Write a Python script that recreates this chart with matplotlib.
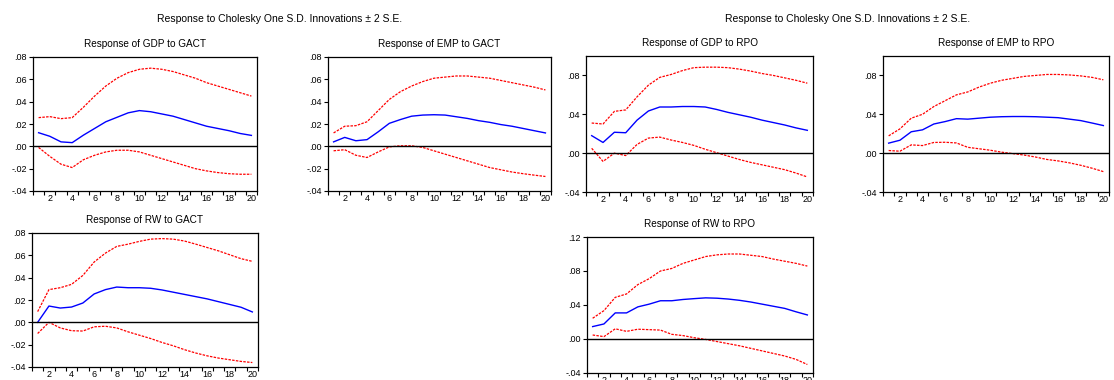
import matplotlib
matplotlib.use("Agg")
import matplotlib.pyplot as plt
import numpy as np

plt.rcParams['font.family'] = ['Liberation Sans', 'DejaVu Sans']

periods = list(range(1, 21))

gdp_gact = [0.0122, 0.0090, 0.0040, 0.0033, 0.0100, 0.0160, 0.0220, 0.0260, 0.0300, 0.0320,
            0.0310, 0.0290, 0.0270, 0.0240, 0.0210, 0.0180, 0.0160, 0.0140, 0.0115, 0.0098]
gdp_gact_hi = [0.0257, 0.0266, 0.0248, 0.0257, 0.0350, 0.0450, 0.0540, 0.0610, 0.0660, 0.0690,
               0.0700, 0.0690, 0.0670, 0.0640, 0.0610, 0.0570, 0.0540, 0.0510, 0.0480, 0.0450]
gdp_gact_lo = [-0.0010, -0.0090, -0.0160, -0.0190, -0.0120, -0.0080, -0.0050, -0.0035, -0.0035, -0.0050,
               -0.0080, -0.0110, -0.0140, -0.0170, -0.0200, -0.0220, -0.0235, -0.0245, -0.0250, -0.0250]

emp_gact = [0.0040, 0.0080, 0.0050, 0.0060, 0.0130, 0.0206, 0.0240, 0.0270, 0.0280, 0.0283,
            0.0280, 0.0265, 0.0250, 0.0230, 0.0215, 0.0195, 0.0180, 0.0160, 0.0140, 0.0120]
emp_gact_hi = [0.0120, 0.0180, 0.0185, 0.0220, 0.0320, 0.0420, 0.0490, 0.0540, 0.0580, 0.0610,
               0.0620, 0.0630, 0.0630, 0.0620, 0.0610, 0.0590, 0.0570, 0.0550, 0.0530, 0.0505]
emp_gact_lo = [-0.0040, -0.0030, -0.0080, -0.0100, -0.0050, -0.0005, 0.0005, 0.0005, -0.0010, -0.0040,
               -0.0070, -0.0100, -0.0130, -0.0160, -0.0190, -0.0210, -0.0230, -0.0245, -0.0258, -0.0270]

gdp_rpo = [0.0180, 0.0110, 0.0215, 0.0210, 0.0340, 0.0434, 0.0475, 0.0475, 0.0480, 0.0480,
           0.0475, 0.0450, 0.0420, 0.0395, 0.0370, 0.0340, 0.0315, 0.0290, 0.0260, 0.0235]
gdp_rpo_hi = [0.0310, 0.0300, 0.0430, 0.0445, 0.0580, 0.0700, 0.0780, 0.0810, 0.0850, 0.0880,
              0.0885, 0.0885, 0.0880, 0.0865, 0.0845, 0.0820, 0.0800, 0.0775, 0.0750, 0.0720]
gdp_rpo_lo = [0.0050, -0.0085, 0.0000, -0.0025, 0.0090, 0.0155, 0.0165, 0.0135, 0.0110, 0.0080,
              0.0040, 0.0005, -0.0030, -0.0065, -0.0095, -0.0120, -0.0145, -0.0170, -0.0205, -0.0245]

emp_rpo = [0.0103, 0.0133, 0.0220, 0.0240, 0.0300, 0.0325, 0.0355, 0.0350, 0.0360, 0.0370,
           0.0375, 0.0377, 0.0377, 0.0375, 0.0370, 0.0365, 0.0350, 0.0335, 0.0310, 0.0284]
emp_rpo_hi = [0.0178, 0.0250, 0.0360, 0.0400, 0.0480, 0.0540, 0.0600, 0.0630, 0.0680, 0.0720,
              0.0750, 0.0770, 0.0790, 0.0800, 0.0810, 0.0810, 0.0805, 0.0795, 0.0780, 0.0755]
emp_rpo_lo = [0.0027, 0.0020, 0.0085, 0.0078, 0.0110, 0.0112, 0.0105, 0.0060, 0.0045, 0.0030,
              0.0010, -0.0005, -0.0020, -0.0040, -0.0065, -0.0080, -0.0100, -0.0125, -0.0155, -0.0190]

rw_gact = [0.0000, 0.0146, 0.0128, 0.0137, 0.0173, 0.0254, 0.0293, 0.0316, 0.0310, 0.0310,
           0.0305, 0.0290, 0.0270, 0.0250, 0.0230, 0.0210, 0.0185, 0.0160, 0.0135, 0.0093]
rw_gact_hi = [0.0096, 0.0293, 0.0310, 0.0340, 0.0420, 0.0540, 0.0620, 0.0680, 0.0700, 0.0725,
              0.0745, 0.0750, 0.0745, 0.0728, 0.0700, 0.0670, 0.0640, 0.0605, 0.0570, 0.0546]
rw_gact_lo = [-0.0100, 0.0000, -0.0050, -0.0075, -0.0078, -0.0040, -0.0035, -0.0050, -0.0085, -0.0115,
              -0.0145, -0.0180, -0.0210, -0.0245, -0.0275, -0.0300, -0.0320, -0.0335, -0.0350, -0.0360]

rw_rpo = [0.0146, 0.0177, 0.0307, 0.0307, 0.0378, 0.0410, 0.0450, 0.0450, 0.0465, 0.0475,
          0.0484, 0.0480, 0.0470, 0.0455, 0.0435, 0.0410, 0.0385, 0.0360, 0.0320, 0.0283]
rw_rpo_hi = [0.0244, 0.0334, 0.0490, 0.0530, 0.0640, 0.0710, 0.0800, 0.0830, 0.0890, 0.0930,
             0.0970, 0.0990, 0.1000, 0.1000, 0.0985, 0.0970, 0.0940, 0.0915, 0.0890, 0.0858]
rw_rpo_lo = [0.0047, 0.0028, 0.0120, 0.0090, 0.0115, 0.0110, 0.0105, 0.0055, 0.0040, 0.0015,
             -0.0005, -0.0030, -0.0055, -0.0080, -0.0110, -0.0140, -0.0170, -0.0200, -0.0240, -0.0300]

suptitle = "Response to Cholesky One S.D. Innovations \u00b1 2 S.E."

W, H = 1114, 380
fig = plt.figure(figsize=(W / 100, H / 100), dpi=100)

def px_axes(left, top, right, bottom):
    return fig.add_axes([left / W, 1 - bottom / H, (right - left) / W, (bottom - top) / H])

panels = [
    ("Response of GDP to GACT", (33, 57, 257, 191), gdp_gact, gdp_gact_hi, gdp_gact_lo, (-0.04, 0.08), [-0.04, -0.02, 0.0, 0.02, 0.04, 0.06, 0.08]),
    ("Response of EMP to GACT", (328, 57, 551, 191), emp_gact, emp_gact_hi, emp_gact_lo, (-0.04, 0.08), [-0.04, -0.02, 0.0, 0.02, 0.04, 0.06, 0.08]),
    ("Response of GDP to RPO", (586, 56, 813, 192), gdp_rpo, gdp_rpo_hi, gdp_rpo_lo, (-0.04, 0.10), [-0.04, 0.0, 0.04, 0.08]),
    ("Response of EMP to RPO", (883, 56, 1109, 192), emp_rpo, emp_rpo_hi, emp_rpo_lo, (-0.04, 0.10), [-0.04, 0.0, 0.04, 0.08]),
    ("Response of RW to GACT", (32, 233, 258, 367), rw_gact, rw_gact_hi, rw_gact_lo, (-0.04, 0.08), [-0.04, -0.02, 0.0, 0.02, 0.04, 0.06, 0.08]),
    ("Response of RW to RPO", (587, 237, 813, 373), rw_rpo, rw_rpo_hi, rw_rpo_lo, (-0.04, 0.12), [-0.04, 0.0, 0.04, 0.08, 0.12]),
]

def fmt(v):
    s = "%.2f" % v
    if s.startswith("-0"):
        s = "-" + s[2:]
    elif s.startswith("0"):
        s = s[1:]
    return s

for title, box, mid, hi, lo, ylim, yticks in panels:
    ax = px_axes(*box)
    ax.plot(periods, hi, color="red", lw=0.9, ls=(0, (2, 1)))
    ax.plot(periods, lo, color="red", lw=0.9, ls=(0, (2, 1)))
    ax.plot(periods, mid, color="blue", lw=1.0)
    ax.axhline(0, color="black", lw=1.0)
    ax.set_xlim(0.5, 20.5)
    ax.set_ylim(*ylim)
    ax.set_yticks(yticks)
    ax.set_yticklabels([fmt(v) for v in yticks], fontsize=6.5)
    ax.set_xticks(np.arange(0.5, 21, 1.0))
    ax.set_xticklabels([])
    ax.set_xticks(list(range(2, 21, 2)), minor=True)
    ax.set_xticklabels([str(v) for v in range(2, 21, 2)], minor=True, fontsize=6.5)
    ax.tick_params(axis="x", which="major", direction="out", length=3, width=0.8)
    ax.tick_params(axis="x", which="minor", length=0, pad=2.5)
    ax.tick_params(axis="y", direction="out", length=3, width=0.8, pad=1.5)
    for sp in ax.spines.values():
        sp.set_linewidth(0.9)
    ax.set_title(title, fontsize=7.2, pad=7)

fig.text(280 / W, 1 - 19 / H, suptitle, ha="center", va="center", fontsize=7.5)
fig.text(848 / W, 1 - 19 / H, suptitle, ha="center", va="center", fontsize=7.5)

fig.savefig("out.png", dpi=100)
